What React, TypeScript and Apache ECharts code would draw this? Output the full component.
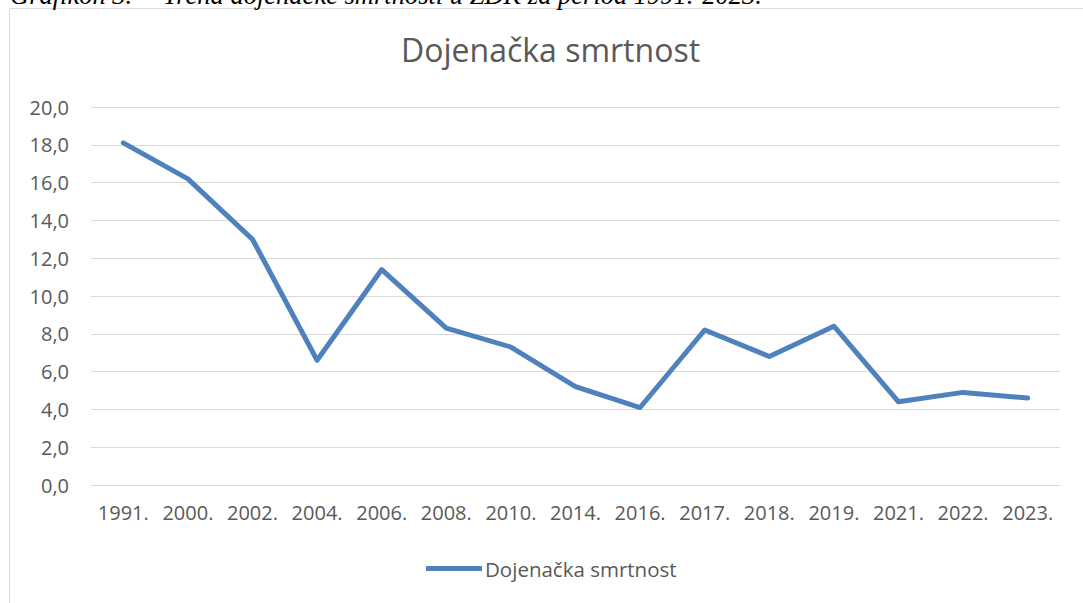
import React, { useEffect, useRef } from "react";
import * as echarts from "echarts";

const categories = ["1991.", "2000.", "2002.", "2004.", "2006.", "2008.", "2010.", "2014.", "2016.", "2017.", "2018.", "2019.", "2021.", "2022.", "2023."];
const values = [18.1, 16.2, 13.0, 6.6, 11.4, 8.3, 7.3, 5.2, 4.1, 8.2, 6.8, 8.4, 4.4, 4.9, 4.6];
const seriesName = "Dojenačka smrtnost";
const chartTitle = "Dojenačka smrtnost";
const captionLabel = "Grafikon 3.";
const captionText = "Trend dojenačke smrtnosti u ZDK za period 1991.-2023.";

const FONT = "'Open Sans', 'Noto Sans', sans-serif";
const CAPTION_FONT = "italic 26.5px 'Liberation Serif', 'Times New Roman', serif";

export default function App() {
  const ref = useRef<HTMLDivElement>(null);
  useEffect(() => {
    if (!ref.current) return;
    const chart = echarts.init(ref.current, undefined, { renderer: "svg" });
    chart.setOption({
      animation: false,
      backgroundColor: "#ffffff",
      title: {
        text: chartTitle,
        left: 401,
        top: 33,
        padding: 0,
        textStyle: { fontFamily: FONT, fontSize: 32, fontWeight: "normal", color: "#595959" },
      },
      graphic: [
        {
          type: "rect",
          shape: { x: 9.5, y: 8.5, width: 1090, height: 620 },
          style: { fill: "none", stroke: "#d9d9d9", lineWidth: 1 },
          silent: true,
        },
        {
          type: "text",
          x: 10,
          y: -19,
          style: { text: captionLabel, font: CAPTION_FONT, fill: "#000000" },
        },
        {
          type: "text",
          x: 163,
          y: -19,
          style: { text: captionText, font: CAPTION_FONT, fill: "#000000" },
        },
      ],
      legend: {
        bottom: 19,
        left: 421,
        itemWidth: 56,
        itemHeight: 5,
        itemGap: 4,
        data: [{ name: seriesName, icon: "path://M0,0 L56,0 L56,5 L0,5 Z" }],
        textStyle: { fontFamily: FONT, fontSize: 20.5, color: "#595959", padding: [0, 0, 0, -2] },
      },
      grid: { left: 91, right: 23, top: 107, bottom: 118, containLabel: false },
      xAxis: {
        type: "category",
        data: categories,
        boundaryGap: true,
        axisLine: { show: true, lineStyle: { color: "#d9d9d9", width: 1 } },
        axisTick: { show: false },
        axisLabel: { fontFamily: FONT, fontSize: 20, color: "#595959", margin: 17, interval: 0 },
      },
      yAxis: {
        type: "value",
        min: 0,
        max: 20,
        interval: 2,
        axisLine: { show: false },
        axisTick: { show: false },
        splitLine: { lineStyle: { color: "#d9d9d9", width: 1 } },
        axisLabel: {
          fontFamily: FONT,
          fontSize: 20,
          color: "#595959",
          margin: 22,
          formatter: (v: number) => v.toFixed(1).replace(".", ","),
        },
      },
      series: [
        {
          name: seriesName,
          type: "line",
          data: values,
          symbol: "none",
          lineStyle: { color: "#4f81bd", width: 5, cap: "round", join: "round" },
          itemStyle: { color: "#4f81bd" },
        },
      ],
    });
    return () => chart.dispose();
  }, []);
  return (
    <div
      ref={ref}
      style={{ position: "absolute", left: 0, top: 0, width: 1083, height: 603 }}
    />
  );
}
